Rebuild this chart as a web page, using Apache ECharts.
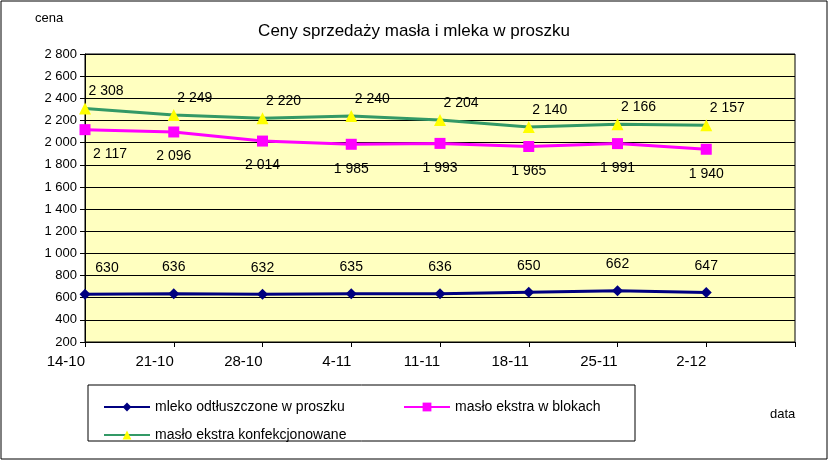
<!DOCTYPE html>
<html><head><meta charset="utf-8">
<script src="https://cdn.jsdelivr.net/npm/echarts@6/dist/echarts.min.js"></script>
<style>body{margin:0}#c{width:828px;height:460px}</style></head>
<body><div id="c"></div>
<script>
const dates = ['14-10','21-10','28-10','4-11','11-11','18-11','25-11','2-12','']
const mleko = [630,636,632,635,636,650,662,647]
const blok = [2117,2096,2014,1985,1993,1965,1991,1940]
const konf = [2308,2249,2220,2240,2204,2140,2166,2157]
const fmt = p => String(p.value).replace(/\B(?=(\d{3})+(?!\d))/g, ' ')
const font = 'Liberation Sans'
const chart = echarts.init(document.getElementById('c'))
function leg(name, left, top) {
  return {data: [name], left, top, itemWidth: 46, itemHeight: 11, textStyle: {fontFamily: font, fontSize: 14, color: '#000'}}
}
// first point labels are pushed right, like the original
function firstShift(vals, dx) {
  return vals.map((v, i) => i === 0 ? {value: v, label: {offset: [dx, 0]}} : v)
}
const lbl = {show: true, formatter: fmt, fontFamily: font, fontSize: 14, color: '#000'}
chart.setOption({
  backgroundColor: '#fff',
  animation: false,
  title: {text: 'Ceny sprzedaży masła i mleka w proszku', left: 'center', top: 18,
    textStyle: {fontFamily: font, fontSize: 17, fontWeight: 'normal', color: '#000'}},
  graphic: [
    {type: 'rect', shape: {x: 1, y: 1, width: 826, height: 458}, style: {fill: null, stroke: '#000', lineWidth: 1}},
    {type: 'rect', shape: {x: 88, y: 385, width: 547, height: 56}, style: {fill: '#fff', stroke: '#000', lineWidth: 1}},
    {type: 'text', left: 35, top: 12, style: {text: 'cena', font: '13px Liberation Sans', fill: '#000'}},
    {type: 'text', left: 770, top: 408, style: {text: 'data', font: '13px Liberation Sans', fill: '#000'}}
  ],
  legend: [leg('mleko odtłuszczone w proszku', 98, 395), leg('masło ekstra w blokach', 398, 395), leg('masło ekstra konfekcjonowane', 98, 423)],
  grid: {left: 85, right: 33, top: 54, bottom: 118, show: true, backgroundColor: '#FFFFC0', borderColor: '#000', borderWidth: 1},
  xAxis: {type: 'category', data: dates, boundaryGap: false,
    axisLine: {lineStyle: {color: '#000'}}, axisTick: {show: true, lineStyle: {color: '#000'}},
    axisLabel: {align: 'right', margin: 12, fontFamily: font, fontSize: 15, color: '#000'}},
  yAxis: {type: 'value', min: 200, max: 2800, interval: 200,
    axisLine: {show: true, lineStyle: {color: '#000'}}, axisTick: {show: true, lineStyle: {color: '#000'}},
    splitLine: {lineStyle: {color: '#000'}},
    axisLabel: {formatter: v => String(v).replace(/\B(?=(\d{3})+(?!\d))/g, ' '), fontFamily: font, fontSize: 13, color: '#000'}},
  series: [
    {name: 'mleko odtłuszczone w proszku', type: 'line', data: firstShift(mleko, 22), symbol: 'diamond', symbolSize: 11,
      lineStyle: {color: '#000080', width: 3}, itemStyle: {color: '#000080'},
      label: {...lbl, position: 'top', distance: 14}},
    {name: 'masło ekstra w blokach', type: 'line', data: firstShift(blok, 25), symbol: 'rect', symbolSize: 11,
      lineStyle: {color: '#FF00FF', width: 3}, itemStyle: {color: '#FF00FF'},
      label: {...lbl, position: 'bottom', distance: 12}},
    {name: 'masło ekstra konfekcjonowane', type: 'line', data: konf, symbol: 'triangle', symbolSize: 12,
      lineStyle: {color: '#339966', width: 3}, itemStyle: {color: '#FFFF00'},
      label: {...lbl, position: 'top', distance: 4, offset: [21, 0]}}
  ]
})
</script></body></html>
